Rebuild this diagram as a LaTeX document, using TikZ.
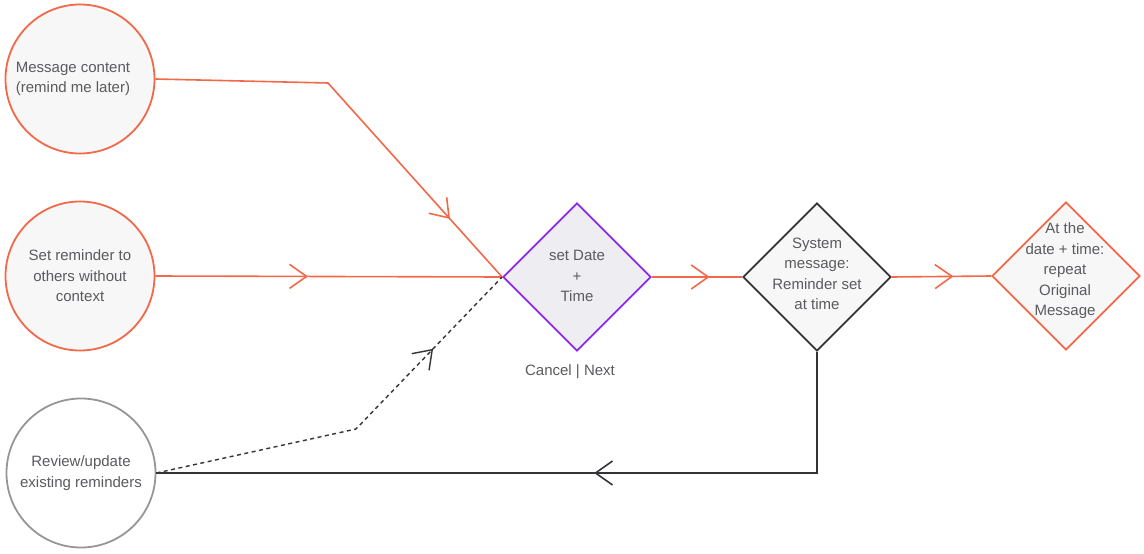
\documentclass[tikz,border=0pt]{standalone}
\usepackage{fontspec}
\setmainfont{Liberation Sans}
\usetikzlibrary{shapes.geometric,arrows.meta,decorations.markings}
\definecolor{orng}{RGB}{242,104,73}
\definecolor{purp}{RGB}{140,40,230}
\definecolor{dark}{RGB}{51,51,56}
\definecolor{txtgray}{RGB}{90,90,95}
\definecolor{ringgray}{RGB}{150,150,150}
\definecolor{fillgray}{RGB}{247,247,247}
\definecolor{fillblue}{RGB}{238,238,242}
\tikzset{
  every node/.style={font=\fontsize{15}{20.5}\selectfont, text=txtgray},
  circ/.style={circle, minimum size=149pt, inner sep=0pt, line width=1.8pt},
  dia/.style={diamond, aspect=1, minimum width=148pt, minimum height=148pt, inner sep=0pt, line width=1.8pt},
  lbl/.style={align=center},
  oline/.style={draw=orng, line width=1.6pt},
  dline/.style={draw=dark, line width=1.6pt},
  midarrow/.style={postaction={decorate}, decoration={markings,
    mark=at position #1 with {\arrow{Straight Barb[length=17pt,width=24pt]}}}}
}
\begin{document}
\begin{tikzpicture}[x=1pt,y=-1pt]
\useasboundingbox (0,0) rectangle (1144,554);
% nodes
\node[circ, draw=orng, fill=fillgray] (c1) at (80,79) {};
\node[align=left] at (73,79) {Message content\\(remind me later)};
\node[circ, draw=orng, fill=fillgray, align=center] (c2) at (80,276) {Set reminder to\\others without\\context};
\node[circ, draw=ringgray, fill=white, align=center] (c3) at (81,473) {Review/update\\existing reminders};
\node[dia, draw=purp, fill=fillblue] (d1) at (577,277) {};
\node[lbl] at (577,276) {set Date\\+\\Time};
\node[dia, draw=dark, fill=fillgray] (d2) at (817,277) {};
\node[lbl] at (817,274) {System\\message:\\Reminder set\\at time};
\node[dia, draw=orng, fill=fillgray] (d3) at (1066,276) {};
\node[lbl] at (1065,271) {At the\\date + time:\\repeat\\Original\\Message};
\node (cn) at (570,372) {Cancel | Next};
% corner coordinates
\coordinate (k1) at (328,83);
\coordinate (k6) at (356,429);
% connectors
\draw[oline, midarrow=0.82] (c1.east) -- (k1) -- (d1.west);
\draw[oline, midarrow=0.44] (c2.east) -- (d1.west);
\draw[oline, midarrow=0.64] (d1.east) -- (d2.west);
\draw[oline, midarrow=0.62] (d2.east) -- (d3.west);
\draw[dline, midarrow=0.44] (d2.south) |- (c3.east);
\draw[draw=dark, line width=1.4pt, dash pattern=on 4pt off 3.5pt, midarrow=0.76] (c3.east) -- (k6) -- (d1.west);
\end{tikzpicture}
\end{document}
